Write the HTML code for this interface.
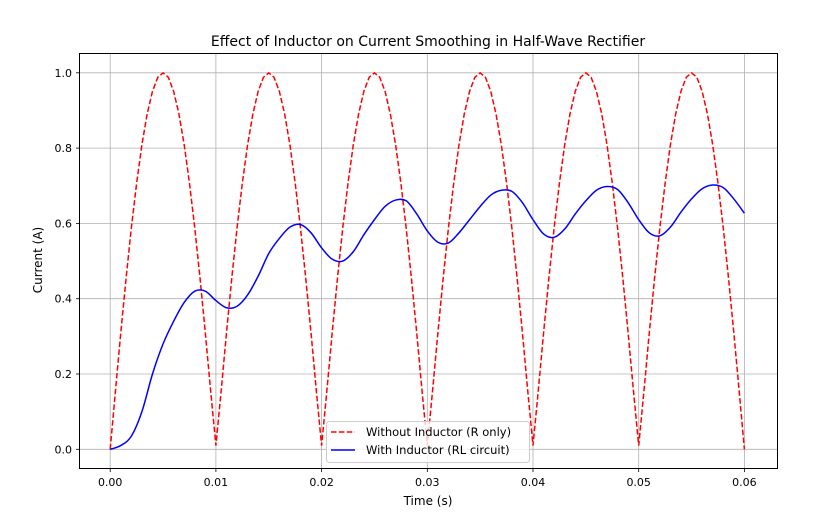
<!DOCTYPE html>
<html><head><meta charset="utf-8"><style>
body{margin:0;background:#fff;}
svg text{font-family:"DejaVu Sans","Liberation Sans",sans-serif;fill:#000;}
</style></head><body>
<svg id="chart" width="833" height="516" viewBox="0 0 833 516">
<rect width="833" height="516" fill="#fff"/>
<text x="428" y="46" font-size="14" text-anchor="middle">Effect of Inductor on Current Smoothing in Half-Wave Rectifier</text>
<g id="grid"></g>
<g id="series"></g>
<rect x="79.5" y="53.5" width="698" height="415" fill="none" stroke="#000" stroke-width="1"/>
<g id="ticks"></g>
<text x="428" y="505" font-size="12" text-anchor="middle">Time (s)</text>
<text transform="translate(42,260) rotate(-90)" font-size="12" text-anchor="middle">Current (A)</text>
<g>
<rect x="326.5" y="421.5" width="203" height="41" rx="3" fill="#fff" fill-opacity="0.8" stroke="#ccc"/>
<g>
<line x1="331" y1="432" x2="355" y2="432" stroke="#ff0000" stroke-width="1.5" stroke-dasharray="5.5,2.4"/>
<text x="366" y="436" font-size="11.5">Without Inductor (R only)</text></g>
<g>
<line x1="331" y1="450" x2="355" y2="450" stroke="#0000ff" stroke-width="1.5"/>
<text x="366" y="454" font-size="11.5">With Inductor (RL circuit)</text></g>
</g>
</svg>
<script>
const xTicks=[0,0.01,0.02,0.03,0.04,0.05,0.06];
const xTickLabels=["0.00","0.01","0.02","0.03","0.04","0.05","0.06"];
const yTicks=[0,0.2,0.4,0.6,0.8,1.0];
const yTickLabels=["0.0","0.2","0.4","0.6","0.8","1.0"];
const redStep=0.0005;
const redValues=[
0,.156,.309,.454,.588,.707,.809,.891,.951,.988,1,.988,.951,.891,.809,.707,.588,.454,.309,.156,
.01,.156,.309,.454,.588,.707,.809,.891,.951,.988,1,.988,.951,.891,.809,.707,.588,.454,.309,.156,
.01,.156,.309,.454,.588,.707,.809,.891,.951,.988,1,.988,.951,.891,.809,.707,.588,.454,.309,.156,
.01,.156,.309,.454,.588,.707,.809,.891,.951,.988,1,.988,.951,.891,.809,.707,.588,.454,.309,.156,
.01,.156,.309,.454,.588,.707,.809,.891,.951,.988,1,.988,.951,.891,.809,.707,.588,.454,.309,.156,
.01,.156,.309,.454,.588,.707,.809,.891,.951,.988,1,.988,.951,.891,.809,.707,.588,.454,.309,.156,0];
const blueStep=0.001;
const blueV=[0,.01,.035,.10,.20,.28,.34,.39,.42,.42,.395,.376,.38,.41,.46,.52,.56,.59,.597,.575,
.535,.505,.50,.525,.57,.61,.645,.662,.66,.625,.58,.55,.548,.575,.61,.645,.675,.688,.685,.655,
.61,.572,.563,.585,.625,.66,.688,.698,.69,.655,.61,.575,.567,.59,.63,.665,.692,.702,.695,.665,.627];
const NS="http://www.w3.org/2000/svg";
const X0=110.2,XS=10570,Y0=449.3,YS=376.5;
function xs(t){return X0+t*XS;}
function ys(v){return Y0-v*YS;}
function mk(tag,attrs,parent){const e=document.createElementNS(NS,tag);for(const k in attrs)e.setAttribute(k,attrs[k]);parent.appendChild(e);return e;}
const grid=document.getElementById('grid'),ticks=document.getElementById('ticks'),series=document.getElementById('series');
xTicks.forEach((t,i)=>{const x=xs(t);
const g=mk('line',{x1:x,x2:x,y1:53.5,y2:468.5,stroke:'#b0b0b0','stroke-width':0.8},grid);


mk('line',{x1:x,x2:x,y1:468.5,y2:472,stroke:'#000','stroke-width':0.8},ticks);
const l=mk('text',{x:x,y:486,'font-size':11,'text-anchor':'middle'},ticks);l.textContent=xTickLabels[i];

});
yTicks.forEach((v,i)=>{const y=ys(v);
const g=mk('line',{x1:79.5,x2:777.5,y1:y,y2:y,stroke:'#b0b0b0','stroke-width':0.8},grid);


mk('line',{x1:76,x2:79.5,y1:y,y2:y,stroke:'#000','stroke-width':0.8},ticks);
const l=mk('text',{x:72,y:y+4,'font-size':11,'text-anchor':'end'},ticks);l.textContent=yTickLabels[i];

});
let d=redValues.map((v,i)=>(i?'L':'M')+xs(i*redStep).toFixed(2)+','+ys(v).toFixed(2)).join('');
const red=mk('path',{d:d,fill:'none',stroke:'#ff0000','stroke-width':1.5,'stroke-dasharray':'5.5,2.4'},series);


const P=blueV.map((v,i)=>[xs(i*blueStep),ys(v)]);
let bd='M'+P[0][0]+','+P[0][1];
for(let i=0;i<P.length-1;i++){const p0=P[Math.max(0,i-1)],p1=P[i],p2=P[i+1],p3=P[Math.min(P.length-1,i+2)];
const c1=[p1[0]+(p2[0]-p0[0])/6,p1[1]+(p2[1]-p0[1])/6],c2=[p2[0]-(p3[0]-p1[0])/6,p2[1]-(p3[1]-p1[1])/6];
bd+='C'+c1.join(',')+' '+c2.join(',')+' '+p2.join(',');}
const blue=mk('path',{d:bd,fill:'none',stroke:'#0000ff','stroke-width':1.5},series);


</script>
</body></html>
